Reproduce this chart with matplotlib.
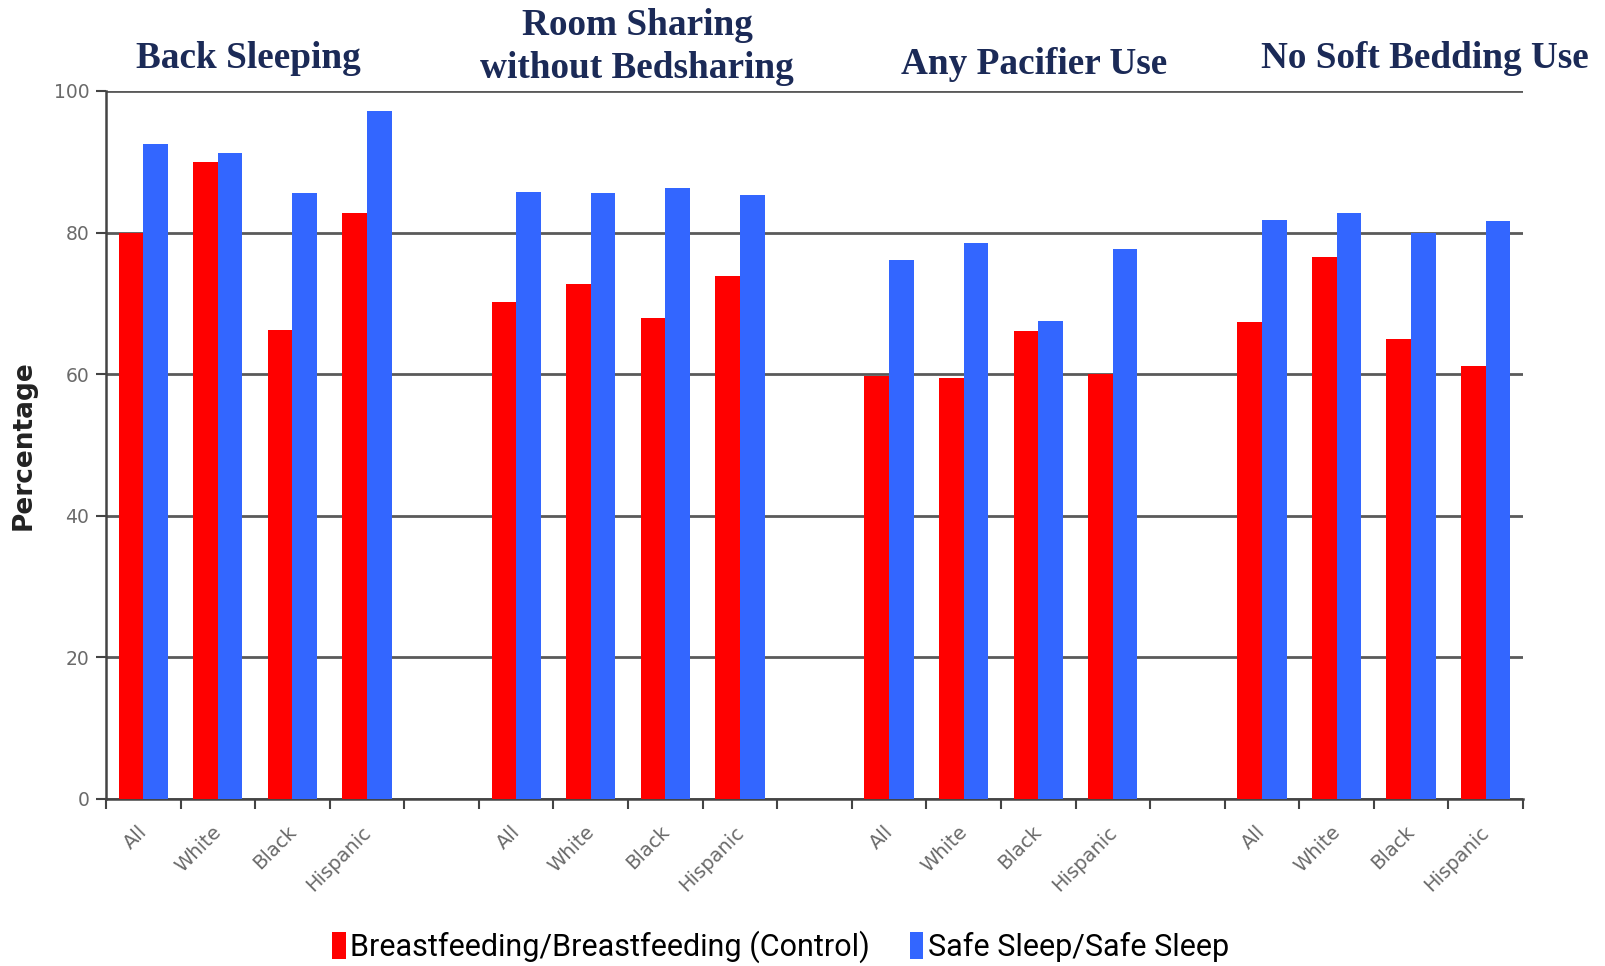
import numpy as np
import matplotlib.pyplot as plt
import matplotlib.transforms as mtransforms
from matplotlib.patches import Patch

# Survey results (%), by practice and race/ethnicity
practices = ["Back Sleeping", "Room Sharing\nwithout Bedsharing",
             "Any Pacifier Use", "No Soft Bedding Use"]
groups = ["All", "White", "Black", "Hispanic"]

control = [
    [80.0, 90.0, 66.2, 82.7],   # Back Sleeping
    [70.2, 72.7, 67.9, 73.8],   # Room Sharing
    [59.8, 59.5, 66.1, 60.0],   # Pacifier
    [67.4, 76.6, 64.9, 61.1],   # No Soft Bedding
]
safe_sleep = [
    [92.5, 91.3, 85.6, 97.2],
    [85.8, 85.6, 86.3, 85.3],
    [76.1, 78.6, 67.5, 77.7],
    [81.8, 82.7, 80.0, 81.7],
]

RED = "#ff0000"
BLUE = "#3366ff"
NAVY = "#1b2a57"
GRID = "#5a5a5a"

fig = plt.figure(figsize=(16.06, 9.66), dpi=100)
ax = fig.add_axes([0.066, 0.1729, 0.8823, 0.7329])

# one empty slot between each block of four categories
width = 0.33
for i, (c_vals, s_vals) in enumerate(zip(control, safe_sleep)):
    pos = np.arange(4) + i * 5
    ax.bar(pos - width / 2, c_vals, width, color=RED, zorder=3)
    ax.bar(pos + width / 2, s_vals, width, color=BLUE, zorder=3)

n_slots = 19
ax.set_xlim(-0.5, n_slots - 0.5)
ax.set_ylim(0, 100)

# category labels under each bar pair, boundary ticks in between
label_pos = [i * 5 + k for i in range(4) for k in range(4)]
ax.set_xticks(label_pos)
ax.set_xticklabels(groups * 4, rotation=45, ha="right", va="top",
                   rotation_mode="anchor", color="#6a6a6a", fontsize=14)
ax.tick_params(axis="x", which="major", length=0, pad=17)
shift = mtransforms.ScaledTranslation(-6 / 100, 0, fig.dpi_scale_trans)
for lbl in ax.get_xticklabels():
    lbl.set_transform(lbl.get_transform() + shift)
ax.set_xticks(np.arange(n_slots + 1) - 0.5, minor=True)
ax.tick_params(axis="x", which="minor", length=7, width=1.5, color="#444444")

ax.set_yticks([0, 20, 40, 60, 80, 100])
ax.tick_params(axis="y", length=7, width=1.5, color="#444444",
               labelcolor="#6a6a6a", labelsize=13.5, pad=5)
ax.yaxis.grid(True, color=GRID, linewidth=2, zorder=0)
ax.set_axisbelow(True)

for side in ["top", "right"]:
    ax.spines[side].set_visible(False)
for side in ["left", "bottom"]:
    ax.spines[side].set_color("#444444")
    ax.spines[side].set_linewidth(1.8)

ax.set_ylabel("Percentage", fontsize=19, color="#222222", labelpad=12,
              weight="semibold")

# practice headings above the plot
title_x = [248, 637, 1034, 1425]
title_y = [59, 47, 65, 59]
for name, x, y in zip(practices, title_x, title_y):
    fig.text(x / 1606, 1 - y / 966, name, ha="center", va="center",
             family="Liberation Serif", weight="bold", fontsize=26.8,
             color=NAVY, linespacing=1.28)

handles = [Patch(facecolor=RED, label="Breastfeeding/Breastfeeding (Control)"),
           Patch(facecolor=BLUE, label="Safe Sleep/Safe Sleep")]
fig.legend(handles=handles, loc="center", bbox_to_anchor=(0.486, 1 - 947 / 966),
           ncol=2, frameon=False, handlelength=0.45, handleheight=1.0,
           handletextpad=0.15, columnspacing=1.3,
           prop={"family": "Roboto", "size": 22})

fig.savefig("out.png", dpi=100)
